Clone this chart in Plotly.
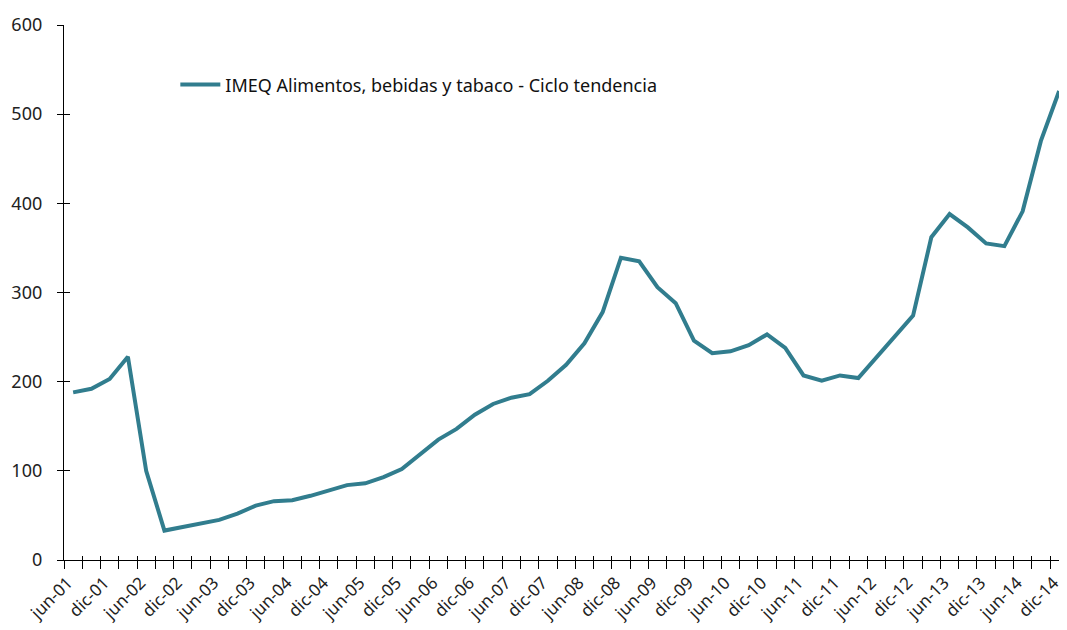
import plotly.graph_objects as go

quarters = ["jun-01","sep-01","dic-01","mar-02","jun-02","sep-02","dic-02","mar-03","jun-03","sep-03","dic-03",
            "mar-04","jun-04","sep-04","dic-04","mar-05","jun-05","sep-05","dic-05","mar-06","jun-06","sep-06","dic-06",
            "mar-07","jun-07","sep-07","dic-07","mar-08","jun-08","sep-08","dic-08","mar-09","jun-09","sep-09","dic-09",
            "mar-10","jun-10","sep-10","dic-10","mar-11","jun-11","sep-11","dic-11","mar-12","jun-12","sep-12","dic-12",
            "mar-13","jun-13","sep-13","dic-13","mar-14","jun-14","sep-14","dic-14"]
imeq = [188, 192, 203, 228, 100, 33, 37, 41, 45, 52, 61,
        66, 67, 72, 78, 84, 86, 93, 102, 119, 135, 147, 163,
        175, 182, 186, 201, 219, 243, 278, 339, 335, 306, 288, 246,
        232, 234, 241, 253, 238, 207, 201, 207, 204, 227, 250, 274,
        362, 388, 373, 355, 352, 391, 470, 526]
series_name = "IMEQ Alimentos, bebidas y tabaco - Ciclo tendencia"

idx = list(range(len(quarters)))
label_pos = [i - 0.3 for i in idx[::2]]
label_txt = quarters[::2]
bounds = [i - 0.5 for i in range(len(quarters) + 1)]

FONT = "Noto Sans"
COLOR = "#317D8E"
xr = [-0.5, 54.43]

fig = go.Figure()
fig.add_trace(go.Scatter(x=idx, y=imeq, mode="lines", name=series_name,
                         line=dict(color=COLOR, width=4), showlegend=True, cliponaxis=False))

fig.update_layout(
    width=1059, height=622,
    margin=dict(l=56, r=0, t=17, b=70, autoexpand=False),
    paper_bgcolor="white", plot_bgcolor="white",
    font=dict(family=FONT, size=18, color="#222"),
    showlegend=True,
    legend=dict(x=0.111, y=0.888, xanchor="left", yanchor="middle",
                bgcolor="rgba(0,0,0,0)", font=dict(family=FONT, size=18, color="#111"),
                itemwidth=40),
    xaxis=dict(range=xr, tickmode="array", tickvals=label_pos, ticktext=label_txt,
               tickangle=-45, ticks="outside", ticklen=5, tickcolor="rgba(0,0,0,0)",
               showgrid=False, zeroline=False, automargin=False, ticklabeloverflow="allow",
               showline=True, linecolor="black", linewidth=1.3,
               tickfont=dict(family=FONT, size=17, color="#222")),
    xaxis2=dict(range=xr, overlaying="x", anchor="y", side="bottom", tickmode="array",
                tickvals=bounds, ticks="outside", ticklen=8, tickwidth=1.3, tickcolor="black",
                showticklabels=False, showgrid=False, zeroline=False, showline=False, automargin=False),
    xaxis3=dict(range=xr, overlaying="x", anchor="y", side="bottom", tickmode="array",
                tickvals=bounds, ticks="inside", ticklen=4, tickwidth=1.3, tickcolor="black",
                showticklabels=False, showgrid=False, zeroline=False, showline=False, automargin=False),
    yaxis=dict(range=[0, 600], tickmode="linear", tick0=0, dtick=100,
               ticks="outside", ticklen=6, tickwidth=1.3, tickcolor="black",
               showgrid=False, zeroline=False, showline=True, linecolor="black", linewidth=1.3,
               automargin=False, ticklabelstandoff=11,
               tickfont=dict(family=FONT, size=18, color="#222")),
    yaxis2=dict(range=[0, 600], overlaying="y", anchor="x", side="left", tickmode="linear",
                tick0=0, dtick=100, ticks="inside", ticklen=6, tickwidth=1.3, tickcolor="black",
                showticklabels=False, showgrid=False, zeroline=False, showline=False, automargin=False),
)
# dummy traces to activate overlay axes
fig.add_trace(go.Scatter(x=[None], y=[None], xaxis="x2", yaxis="y", showlegend=False, hoverinfo="skip"))
fig.add_trace(go.Scatter(x=[None], y=[None], xaxis="x3", yaxis="y", showlegend=False, hoverinfo="skip"))
fig.add_trace(go.Scatter(x=[None], y=[None], xaxis="x", yaxis="y2", showlegend=False, hoverinfo="skip"))

fig.write_html("out.html")
